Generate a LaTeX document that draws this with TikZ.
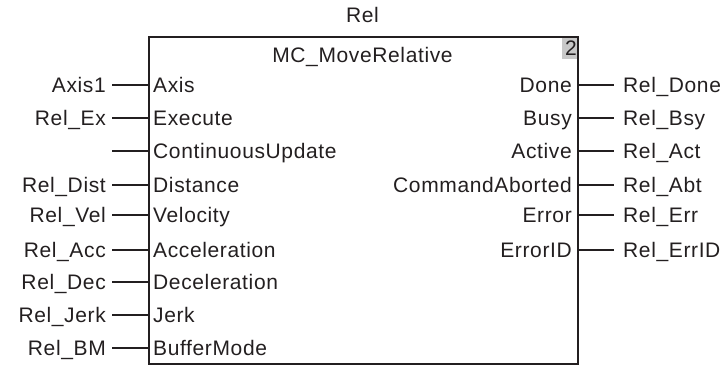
\documentclass[tikz,border=0pt]{standalone}
\usepackage{fontspec}
\setmainfont{Liberation Sans}[LetterSpace=3.0]
\usepackage{tikz}
\usetikzlibrary{positioning}
\definecolor{fbline}{HTML}{231F20}
\definecolor{fbbadge}{HTML}{C8C8C8}
\tikzset{
  fbbox/.style={
    draw=fbline, line width=1.8pt, inner sep=0pt
  },
  fbwire/.style={
    draw=fbline, line width=1.2pt
  },
  fbtext/.style={
    font=\fontsize{21}{21}\selectfont, text=fbline,
    text height=15pt, text depth=0pt, inner ysep=0pt
  },
  pinin/.style={fbtext, anchor=west, inner xsep=5pt},
  pinout/.style={fbtext, anchor=east, inner xsep=5pt},
  varin/.style={fbtext, anchor=east, inner xsep=6pt},
  varout/.style={fbtext, anchor=west, inner xsep=9pt},
}

\begin{document}
\begin{tikzpicture}[
  x=1pt, y=-1pt,
  badge/.style={fbtext, fill=fbbadge, inner sep=0pt, align=right,
    text width=15pt, minimum height=23pt, anchor=north east},
]
  \useasboundingbox (0,0) rectangle (728,365);

  % --- Function block ---
  \node[fbtext] (inst) at (362.5,15) {Rel};
  \node[badge] (badge) at (577,36) {2};
  \node[fbbox, minimum width=429pt, minimum height=327pt, anchor=north west]
    (fb) at (148,36) {};
  \node[fbtext] (fbname) at (362.5,55) {MC\_MoveRelative};

  % --- Input pins ---
  \node[pinin] (inAxis) at (148,85) {Axis};
  \node[pinin] (inExec) at (148,118) {Execute};
  \node[pinin] (inCU) at (148,151) {ContinuousUpdate};
  \node[pinin] (inDist) at (148,185) {Distance};
  \node[pinin] (inVel) at (148,215) {Velocity};
  \node[pinin] (inAcc) at (148,250) {Acceleration};
  \node[pinin] (inDec) at (148,282) {Deceleration};
  \node[pinin] (inJerk) at (148,315) {Jerk};
  \node[pinin] (inBM) at (148,348) {BufferMode};

  % --- Input variables ---
  \node[varin] (vAxis) at (112,85) {Axis1};
  \node[varin] (vExec) at (112,118) {Rel\_Ex};
  \coordinate (vCU) at (112,151);
  \node[varin] (vDist) at (112,185) {Rel\_Dist};
  \node[varin] (vVel) at (112,215) {Rel\_Vel};
  \node[varin] (vAcc) at (112,250) {Rel\_Acc};
  \node[varin] (vDec) at (112,282) {Rel\_Dec};
  \node[varin] (vJerk) at (112,315) {Rel\_Jerk};
  \node[varin] (vBM) at (112,348) {Rel\_BM};

  \draw[fbwire] (vAxis.east) -- (inAxis.west);
  \draw[fbwire] (vExec.east) -- (inExec.west);
  \draw[fbwire] (vCU) -- (inCU.west);
  \draw[fbwire] (vDist.east) -- (inDist.west);
  \draw[fbwire] (vVel.east) -- (inVel.west);
  \draw[fbwire] (vAcc.east) -- (inAcc.west);
  \draw[fbwire] (vDec.east) -- (inDec.west);
  \draw[fbwire] (vJerk.east) -- (inJerk.west);
  \draw[fbwire] (vBM.east) -- (inBM.west);

  % --- Output pins ---
  \node[pinout] (outDone) at (577,85) {Done};
  \node[pinout] (outBusy) at (577,118) {Busy};
  \node[pinout] (outAct) at (577,151) {Active};
  \node[pinout] (outAbt) at (577,185) {CommandAborted};
  \node[pinout] (outErr) at (577,215) {Error};
  \node[pinout] (outErrID) at (577,250) {ErrorID};

  % --- Output variables ---
  \node[varout] (vDone) at (614,85) {Rel\_Done};
  \node[varout] (vBusy) at (614,118) {Rel\_Bsy};
  \node[varout] (vAct) at (614,151) {Rel\_Act};
  \node[varout] (vAbt) at (614,185) {Rel\_Abt};
  \node[varout] (vErr) at (614,215) {Rel\_Err};
  \node[varout] (vErrID) at (614,250) {Rel\_ErrID};

  \draw[fbwire] (outDone.east) -- (vDone.west);
  \draw[fbwire] (outBusy.east) -- (vBusy.west);
  \draw[fbwire] (outAct.east) -- (vAct.west);
  \draw[fbwire] (outAbt.east) -- (vAbt.west);
  \draw[fbwire] (outErr.east) -- (vErr.west);
  \draw[fbwire] (outErrID.east) -- (vErrID.west);
\end{tikzpicture}
\end{document}
